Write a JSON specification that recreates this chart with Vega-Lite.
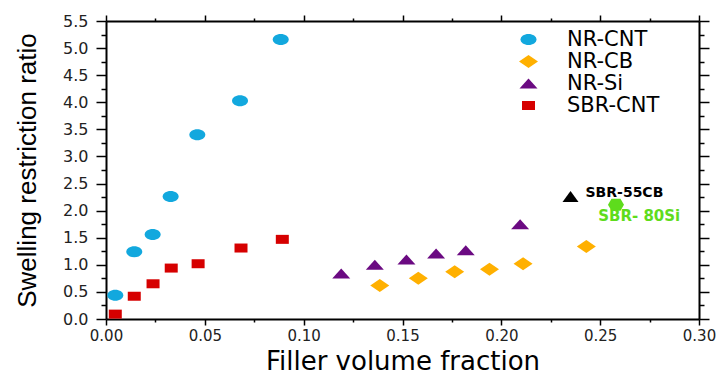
{
  "$schema": "https://vega.github.io/schema/vega-lite/v6.json",
  "width": 593,
  "height": 298,
  "autosize": {"type": "none"},
  "padding": {"left": 106, "top": 21, "right": 18, "bottom": 55},
  "background": "white",
  "config": {"view": {"stroke": null}},
  "data": {"values": [
    {"series": "NR-CNT", "x": 0.0047, "y": 0.44},
    {"series": "NR-CNT", "x": 0.0143, "y": 1.24},
    {"series": "NR-CNT", "x": 0.0236, "y": 1.56},
    {"series": "NR-CNT", "x": 0.0327, "y": 2.26},
    {"series": "NR-CNT", "x": 0.0462, "y": 3.40},
    {"series": "NR-CNT", "x": 0.0678, "y": 4.03},
    {"series": "NR-CNT", "x": 0.0884, "y": 5.16},
    {"series": "SBR-CNT", "x": 0.0047, "y": 0.09},
    {"series": "SBR-CNT", "x": 0.0143, "y": 0.42},
    {"series": "SBR-CNT", "x": 0.0238, "y": 0.65},
    {"series": "SBR-CNT", "x": 0.033, "y": 0.94},
    {"series": "SBR-CNT", "x": 0.0466, "y": 1.02},
    {"series": "SBR-CNT", "x": 0.0683, "y": 1.31},
    {"series": "SBR-CNT", "x": 0.0892, "y": 1.47},
    {"series": "NR-Si", "x": 0.119, "y": 0.84},
    {"series": "NR-Si", "x": 0.136, "y": 1.00},
    {"series": "NR-Si", "x": 0.152, "y": 1.10},
    {"series": "NR-Si", "x": 0.167, "y": 1.21},
    {"series": "NR-Si", "x": 0.182, "y": 1.27},
    {"series": "NR-Si", "x": 0.2095, "y": 1.75},
    {"series": "NR-CB", "x": 0.1385, "y": 0.62},
    {"series": "NR-CB", "x": 0.158, "y": 0.75},
    {"series": "NR-CB", "x": 0.1764, "y": 0.87},
    {"series": "NR-CB", "x": 0.194, "y": 0.92},
    {"series": "NR-CB", "x": 0.211, "y": 1.02},
    {"series": "NR-CB", "x": 0.243, "y": 1.34},
    {"series": "SBR-55CB", "x": 0.235, "y": 2.26},
    {"series": "SBR-80Si", "x": 0.258, "y": 2.11}
  ]},
  "layer": [
    {
      "mark": {"type": "point", "filled": true, "opacity": 1, "strokeWidth": 0, "size": 400},
      "encoding": {
        "x": {
          "field": "x", "type": "quantitative",
          "scale": {"domain": [0, 0.3], "nice": false, "zero": false},
          "axis": {
            "orient": "bottom",
            "values": [0, 0.025, 0.05, 0.075, 0.1, 0.125, 0.15, 0.175, 0.2, 0.225, 0.25, 0.275, 0.3],
            "labelExpr": "round(datum.value*40) % 2 == 0 ? format(datum.value, '.2f') : ''",
            "tickSize": {"condition": {"test": "round(datum.value*40) % 2 == 0", "value": 6}, "value": 3},
            "labelFont": "DejaVu Sans", "labelFontSize": 15, "labelColor": "#222", "labelPadding": 3,
            "labelFlush": false, "labelOverlap": false,
            "domainColor": "black", "domainWidth": 2, "tickColor": "black", "tickWidth": 1.5, "grid": false,
            "title": "Filler volume fraction", "titleFont": "DejaVu Sans", "titleFontSize": 26,
            "titleFontWeight": "normal", "titleColor": "black",
            "titleBaseline": "alphabetic", "titleY": 50
          }
        },
        "y": {
          "field": "y", "type": "quantitative",
          "scale": {"domain": [0, 5.5], "nice": false, "zero": false},
          "axis": {
            "orient": "left",
            "values": [0, 0.25, 0.5, 0.75, 1, 1.25, 1.5, 1.75, 2, 2.25, 2.5, 2.75, 3, 3.25, 3.5, 3.75, 4, 4.25, 4.5, 4.75, 5, 5.25, 5.5],
            "labelExpr": "round(datum.value*4) % 2 == 0 ? format(datum.value, '.1f') : ''",
            "tickSize": {"condition": {"test": "round(datum.value*4) % 2 == 0", "value": 10}, "value": 5},
            "labelFont": "DejaVu Sans", "labelFontSize": 16, "labelColor": "#222", "labelPadding": 8,
            "labelFlush": false, "labelOverlap": false,
            "domainColor": "black", "domainWidth": 2, "tickColor": "black", "tickWidth": 1.5, "grid": false,
            "title": "Swelling restriction ratio", "titleFont": "Liberation Sans", "titleFontSize": 26,
            "titleFontWeight": "normal", "titleColor": "black", "titlePadding": 22
          }
        },
        "color": {
          "field": "series", "type": "nominal",
          "scale": {
            "domain": ["NR-CNT", "NR-CB", "NR-Si", "SBR-CNT", "SBR-55CB", "SBR-80Si"],
            "range": ["#12a8de", "#ffb000", "#6b0a82", "#d60000", "#000000", "#5edc1c"]
          },
          "legend": {
            "values": ["NR-CNT", "NR-CB", "NR-Si", "SBR-CNT"],
            "title": null, "orient": "none", "legendX": 412, "legendY": 8,
            "padding": 0, "rowPadding": 0, "symbolSize": 400, "symbolStrokeWidth": 0, "symbolOpacity": 1,
            "labelFont": "DejaVu Sans", "labelFontSize": 21, "labelColor": "black", "labelOffset": 28,
            "labelLimit": 300
          }
        },
        "shape": {
          "field": "series", "type": "nominal",
          "scale": {
            "domain": ["NR-CNT", "NR-CB", "NR-Si", "SBR-CNT", "SBR-55CB", "SBR-80Si"],
            "range": [
              "M -0.8 0 A 0.8 0.55 0 1 1 0.8 0 A 0.8 0.55 0 1 1 -0.8 0 Z",
              "M -0.95 0 L 0 -0.65 L 0.95 0 L 0 0.65 Z",
              "M -0.9 0.5 L 0 -0.5 L 0.9 0.5 Z",
              "M -0.65 -0.45 L 0.65 -0.45 L 0.65 0.45 L -0.65 0.45 Z",
              "M -0.8 0.55 L 0 -0.55 L 0.8 0.55 Z",
              "M -0.8 0 L -0.45 -0.6 L 0.45 -0.6 L 0.8 0 L 0.45 0.6 L -0.45 0.6 Z"
            ]
          },
          "legend": {
            "values": ["NR-CNT", "NR-CB", "NR-Si", "SBR-CNT"],
            "title": null, "orient": "none", "legendX": 412, "legendY": 8,
            "padding": 0, "rowPadding": 0, "symbolSize": 400, "symbolStrokeWidth": 0, "symbolOpacity": 1,
            "labelFont": "DejaVu Sans", "labelFontSize": 21, "labelColor": "black", "labelOffset": 28,
            "labelLimit": 300
          }
        }
      }
    },
    {
      "mark": {"type": "point", "opacity": 0},
      "encoding": {
        "x": {
          "field": "x", "type": "quantitative",
          "axis": {
            "orient": "top", "labels": false, "title": null,
            "values": [0, 0.025, 0.05, 0.075, 0.1, 0.125, 0.15, 0.175, 0.2, 0.225, 0.25, 0.275, 0.3],
            "tickSize": {"condition": {"test": "round(datum.value*40) % 2 == 0", "value": 6}, "value": 3},
            "domainColor": "black", "domainWidth": 2, "tickColor": "black", "tickWidth": 1.5, "grid": false
          }
        },
        "y": {
          "field": "y", "type": "quantitative",
          "axis": {
            "orient": "right", "labels": false, "title": null,
            "values": [0, 0.25, 0.5, 0.75, 1, 1.25, 1.5, 1.75, 2, 2.25, 2.5, 2.75, 3, 3.25, 3.5, 3.75, 4, 4.25, 4.5, 4.75, 5, 5.25, 5.5],
            "tickSize": {"condition": {"test": "round(datum.value*4) % 2 == 0", "value": 10}, "value": 5},
            "domainColor": "black", "domainWidth": 2, "tickColor": "black", "tickWidth": 1.5, "grid": false
          }
        }
      }
    },
    {
      "data": {"values": [{"x": 0.2426, "y": 2.33, "t": "SBR-55CB"}]},
      "mark": {"type": "text", "align": "left", "baseline": "middle", "font": "DejaVu Sans", "fontWeight": "bold", "fontSize": 14, "color": "black"},
      "encoding": {
        "x": {"field": "x", "type": "quantitative", "axis": null},
        "y": {"field": "y", "type": "quantitative", "axis": null},
        "text": {"field": "t"}
      }
    },
    {
      "data": {"values": [{"x": 0.249, "y": 1.91, "t": "SBR- 80Si"}]},
      "mark": {"type": "text", "align": "left", "baseline": "middle", "font": "DejaVu Sans", "fontWeight": "bold", "fontSize": 15, "color": "#5edc1c"},
      "encoding": {
        "x": {"field": "x", "type": "quantitative", "axis": null},
        "y": {"field": "y", "type": "quantitative", "axis": null},
        "text": {"field": "t"}
      }
    }
  ],
  "resolve": {"axis": {"x": "independent", "y": "independent"}}
}
